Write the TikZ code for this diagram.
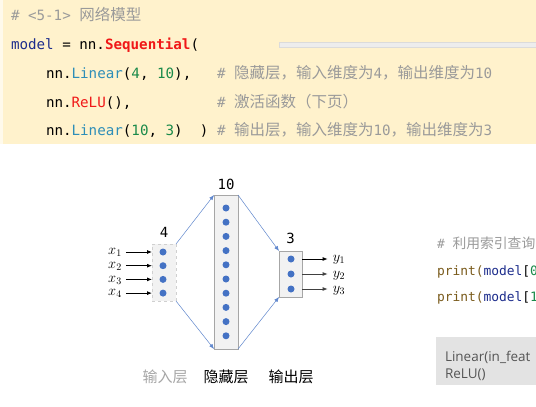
\documentclass[tikz,border=0pt]{standalone}
\usepackage{fontspec}
\setmonofont{DejaVu Sans Mono}
\newfontfamily\cjk{Noto Sans CJK SC}
\newfontfamily\uifont{Open Sans}
\usepackage{tikz}
\usetikzlibrary{positioning}
\usetikzlibrary{arrows.meta}

\definecolor{codebg}{HTML}{FFF2CC}
\definecolor{cmtgray}{HTML}{9A9A9A}
\definecolor{kwnavy}{HTML}{1C2C8C}
\definecolor{fnred}{HTML}{F01818}
\definecolor{clsteal}{HTML}{2E8EB8}
\definecolor{numgreen}{HTML}{1A8A4A}
\definecolor{prnbrown}{HTML}{7A5B1C}
\definecolor{dotblue}{HTML}{4472C4}
\definecolor{boxfill}{HTML}{F2F2F2}
\definecolor{boxline}{HTML}{A6A6A6}
\definecolor{inline}{HTML}{D0D0D0}
\definecolor{outgray}{HTML}{E3E3E3}
\definecolor{outtext}{HTML}{555555}

\newcommand{\zh}[1]{{\cjk\fontsize{15.5}{17}\selectfont #1}}

\begin{document}
\begin{tikzpicture}[
        x = 1pt, y = -1pt,
        code/.style = {
            anchor = base west,
            inner sep = 0pt,
            outer sep = 0pt,
            font = \ttfamily\fontsize{14.2}{17}\selectfont
        },
        cmt/.style = {code, text=cmtgray},
        neuron/.style = {
            circle,
            fill = dotblue,
            minimum size = 7pt,
            inner sep = 0pt,
            outer sep = 0pt
        },
        layer/.style = {
            draw = boxline,
            fill = boxfill,
            line width = 0.8pt,
            minimum width = 24pt,
            minimum height = #1,
            inner sep = 0pt,
            outer sep = 0pt
        },
        layer/.default = 46pt,
        sizelabel/.style = {font=\ttfamily\fontsize{14}{16}\selectfont, inner sep=0pt},
        layername/.style = {font=\cjk\fontsize{15}{17}\selectfont, inner sep=0pt},
        varlabel/.style = {font=\fontsize{14.4}{16}\selectfont, inner sep=1pt},
        conn/.style = {->, draw=dotblue!85, line width=0.5pt},
        >={Latex[length=5pt, width=4pt]},
        node distance = {14.2pt}
        ]
%
        \clip (0,0) rectangle (536,407);
        \fill[white] (0,0) rectangle (536,407);
%
        \fill[codebg] (3,0) rectangle (536,144);
        \fill[codebg!40!white] (0,0) rectangle (3,144);
        \draw[fill=black!7, draw=black!14, line width=0.6pt] (279,42) rectangle (540,47);
%
        \node[cmt] (c1) at (11,20) {\# <5-1> \zh{网络模型}};
        \node[code] (c2) at (11,49) {{\color{kwnavy}model} = nn.{\color{fnred}\bfseries Sequential}(};
        \node[code] (c3) at (46,78) {nn.{\color{clsteal}Linear}({\color{numgreen}4}, {\color{numgreen}10}),};
        \node[cmt] (m3) at (217,78) {\# \zh{隐藏层，输入维度为}4\zh{，输出维度为}10};
        \node[code] (c4) at (46,107) {nn.{\color{fnred}ReLU}(),};
        \node[cmt] (m4) at (217,107) {\# \zh{激活函数（下页）}};
        \node[code] (c5) at (46,135) {nn.{\color{clsteal}Linear}({\color{numgreen}10}, {\color{numgreen}3})\ \ )};
        \node[cmt] (m5) at (217,135) {\# \zh{输出层，输入维度为}10\zh{，输出维度为}3};
%
% layers
        \node[layer=57pt, draw=inline, dashed] (inL) at (164,272.5) {};
        \node[layer=154pt] (hidL) at (226,272) {};
        \node[layer=46pt, minimum width=23pt] (outL) at (290.5,274) {};
%
        \node[sizelabel] (n4) [above=6pt of inL] {4};
        \node[sizelabel] (n10) [above=5pt of hidL] {10};
        \node[sizelabel] (n3) [above=7pt of outL] {3};
%
        \node[neuron] (in1) at (163,252) {};
        \node[neuron, below of=in1, node distance=13.7pt] (in2) {};
        \node[neuron, below of=in2, node distance=13.7pt] (in3) {};
        \node[neuron, below of=in3, node distance=13.7pt] (in4) {};
%
        \node[neuron] (hid1) at (226,208) {};
        \node[neuron, below of=hid1] (hid2) {};
        \node[neuron, below of=hid2] (hid3) {};
        \node[neuron, below of=hid3] (hid4) {};
        \node[neuron, below of=hid4] (hid5) {};
        \node[neuron, below of=hid5] (hid6) {};
        \node[neuron, below of=hid6] (hid7) {};
        \node[neuron, below of=hid7] (hid8) {};
        \node[neuron, below of=hid8] (hid9) {};
        \node[neuron, below of=hid9] (hid10) {};
%
        \node[neuron] (out1) at (291,259) {};
        \node[neuron, below of=out1, node distance=15pt] (out2) {};
        \node[neuron, below of=out2, node distance=15pt] (out3) {};
%
% inputs and outputs
        \node[varlabel] (x1) at (115,252) {$x_1$};
        \node[varlabel] (x2) at (115,266) {$x_2$};
        \node[varlabel] (x3) at (115,280) {$x_3$};
        \node[varlabel] (x4) at (115,293) {$x_4$};
%
        \node[varlabel] (y1) at (339,260) {$y_1$};
        \node[varlabel] (y2) at (339,276) {$y_2$};
        \node[varlabel] (y3) at (339,291) {$y_3$};
%
        \draw[->, line width = 0.8pt] ([xshift=3pt]x1.east |- in1) -- (inL.west |- in1);
        \draw[->, line width = 0.8pt] ([xshift=3pt]x2.east |- in2) -- (inL.west |- in2);
        \draw[->, line width = 0.8pt] ([xshift=3pt]x3.east |- in3) -- (inL.west |- in3);
        \draw[->, line width = 0.8pt] ([xshift=3pt]x4.east |- in4) -- (inL.west |- in4);
%
        \draw[->, line width = 0.8pt] (outL.east |- out1) -- ([xshift=-4pt]y1.west |- out1);
        \draw[->, line width = 0.8pt, black!75] (outL.east |- out2) -- ([xshift=-4pt]y2.west |- out2);
        \draw[->, line width = 0.8pt, black!75] (outL.east |- out3) -- ([xshift=-4pt]y3.west |- out3);
%
        \draw[conn] (inL.north east) -- (hidL.north west);
        \draw[conn] (inL.south east) -- (hidL.south west);
        \draw[conn] (hidL.north east) -- (outL.north west);
        \draw[conn] (hidL.south east) -- (outL.south west);
%
        \node[layername, text=black!35] (nIn) at (165,377) {输入层};
        \node[layername] (nHid) at (226,377) {隐藏层};
        \node[layername] (nOut) at (291,377) {输出层};
%
% query code on the right
        \node[code, text=cmtgray, font=\ttfamily\fontsize{12.9}{15}\selectfont] (q1) at (437,248)
            {\# {\cjk\fontsize{13.8}{15}\selectfont 利用索引查询}};
        \node[code, font=\ttfamily\fontsize{12.9}{15}\selectfont] (q2) at (437,275)
            {{\color{prnbrown}print(}{\color{kwnavy}model}[{\color{numgreen}0}};
        \node[code, font=\ttfamily\fontsize{12.9}{15}\selectfont] (q3) at (437,301)
            {{\color{prnbrown}print(}{\color{kwnavy}model}[{\color{numgreen}1}};
%
        \fill[outgray] (436,337) rectangle (536,385);
        \node[code, text=outtext, font=\uifont\fontsize{13.5}{16}\selectfont] (r1) at (445,361) {Linear(in\_feat};
        \node[code, text=outtext, font=\uifont\fontsize{13.5}{16}\selectfont] (r2) at (445,378) {ReLU()};
%
    \end{tikzpicture}
\end{document}
